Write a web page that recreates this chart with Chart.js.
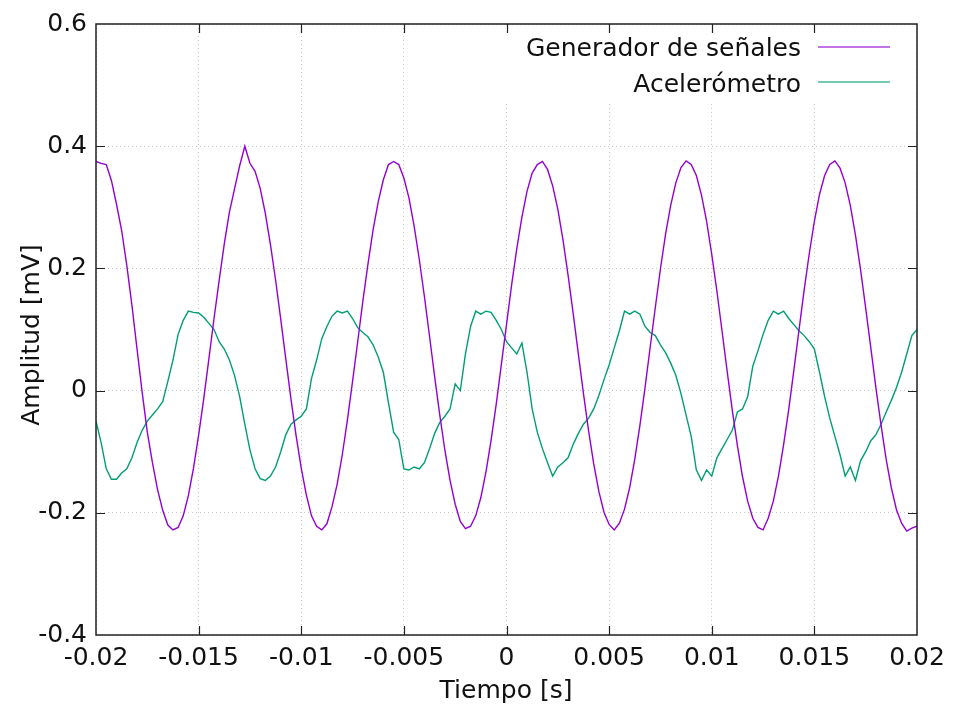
<!DOCTYPE html>
<html>
<head>
<meta charset="utf-8">
<script src="https://cdn.jsdelivr.net/npm/chart.js@4.4.1/dist/chart.umd.min.js"></script>
<style>
  html, body { margin: 0; padding: 0; background: #fff; }
  canvas { display: block; }
</style>
</head>
<body>
<canvas id="chart" width="955" height="704"></canvas>
<script>
// sampling of the captured signals
const t0 = -0.02;
const dt = 0.00025;

// Generador de señales [mV]
const generador = [
  0.375, 0.372, 0.370, 0.344, 0.305, 0.262, 0.205, 0.140, 0.068, -0.003,
  -0.068, -0.118, -0.162, -0.196, -0.220, -0.228, -0.224, -0.205, -0.172, -0.127,
  -0.073, -0.013, 0.052, 0.118, 0.180, 0.240, 0.292, 0.330, 0.368, 0.400,
  0.372, 0.359, 0.331, 0.290, 0.239, 0.181, 0.117, 0.051, -0.014, -0.074,
  -0.127, -0.171, -0.205, -0.222, -0.228, -0.218, -0.190, -0.153, -0.105, -0.048,
  0.015, 0.080, 0.146, 0.207, 0.263, 0.309, 0.345, 0.370, 0.375, 0.370,
  0.348, 0.315, 0.269, 0.215, 0.154, 0.089, 0.023, -0.040, -0.098, -0.147,
  -0.186, -0.214, -0.226, -0.222, -0.205, -0.175, -0.133, -0.081, -0.022, 0.043,
  0.108, 0.173, 0.232, 0.284, 0.326, 0.356, 0.370, 0.375, 0.362, 0.335,
  0.297, 0.247, 0.189, 0.126, 0.060, -0.005, -0.066, -0.120, -0.165, -0.199,
  -0.219, -0.228, -0.217, -0.194, -0.159, -0.112, -0.057, 0.005, 0.071, 0.136,
  0.199, 0.256, 0.303, 0.340, 0.365, 0.376, 0.370, 0.352, 0.320, 0.277,
  0.223, 0.163, 0.098, 0.032, -0.032, -0.090, -0.141, -0.181, -0.209, -0.224,
  -0.228, -0.209, -0.181, -0.140, -0.089, -0.031, 0.033, 0.099, 0.164, 0.224,
  0.277, 0.321, 0.352, 0.370, 0.376, 0.364, 0.340, 0.303, 0.255, 0.198,
  0.135, 0.070, 0.004, -0.057, -0.113, -0.159, -0.195, -0.217, -0.230, -0.225,
  -0.222
];

// Acelerómetro [mV]
const acelerometro = [
  -0.050, -0.085, -0.128, -0.145, -0.145, -0.135, -0.128, -0.110, -0.085, -0.065,
  -0.050, -0.040, -0.030, -0.018, 0.015, 0.050, 0.092, 0.115, 0.130, 0.128,
  0.127, 0.120, 0.110, 0.100, 0.080, 0.068, 0.050, 0.025, -0.010, -0.055,
  -0.097, -0.128, -0.144, -0.147, -0.140, -0.125, -0.100, -0.072, -0.055, -0.048,
  -0.042, -0.030, 0.020, 0.050, 0.085, 0.105, 0.122, 0.130, 0.127, 0.130,
  0.118, 0.103, 0.095, 0.088, 0.075, 0.055, 0.030, -0.020, -0.068, -0.080,
  -0.128, -0.130, -0.125, -0.128, -0.118, -0.095, -0.070, -0.052, -0.042, -0.030,
  0.011, 0.000, 0.060, 0.105, 0.130, 0.125, 0.130, 0.128, 0.115, 0.100,
  0.080, 0.070, 0.060, 0.078, 0.030, -0.030, -0.068, -0.095, -0.118, -0.140,
  -0.125, -0.118, -0.110, -0.088, -0.070, -0.055, -0.045, -0.030, -0.008, 0.018,
  0.042, 0.070, 0.098, 0.130, 0.125, 0.130, 0.125, 0.105, 0.095, 0.090,
  0.075, 0.062, 0.045, 0.025, -0.005, -0.040, -0.075, -0.130, -0.147, -0.130,
  -0.140, -0.110, -0.095, -0.080, -0.065, -0.035, -0.030, -0.010, 0.040, 0.065,
  0.092, 0.115, 0.130, 0.125, 0.130, 0.118, 0.108, 0.098, 0.090, 0.080,
  0.068, 0.030, -0.010, -0.045, -0.075, -0.105, -0.140, -0.125, -0.147, -0.115,
  -0.100, -0.082, -0.072, -0.055, -0.035, -0.016, 0.005, 0.030, 0.060, 0.090,
  0.100
];

const xTicks = [-0.02, -0.015, -0.01, -0.005, 0, 0.005, 0.01, 0.015, 0.02];
const yTicks = [-0.4, -0.2, 0, 0.2, 0.4, 0.6];

const purple = '#9400d3';
const green = '#009e73';
const FONT = '25px "DejaVu Sans"';

const toPoints = vals => vals.map((v, i) => ({ x: +(t0 + i * dt).toFixed(5), y: v }));

// gnuplot-like frame, inward ticks, legend and axis titles
const gnuplotLook = {
  id: 'gnuplotLook',
  beforeDatasetsDraw(chart) {
    const { ctx, chartArea: a } = chart;
    // legend box hides the grid behind it
    ctx.save();
    ctx.fillStyle = '#fff';
    ctx.fillRect(500, a.top + 1, a.right - 501, 77);
    ctx.restore();
  },
  afterDraw(chart) {
    const { ctx, chartArea: a, scales } = chart;
    ctx.save();
    ctx.strokeStyle = '#222';
    ctx.lineWidth = 1.5;
    ctx.strokeRect(a.left, a.top, a.right - a.left, a.bottom - a.top);

    ctx.lineWidth = 1.2;
    ctx.beginPath();
    xTicks.slice(1, -1).forEach(v => {
      const px = Math.round(scales.x.getPixelForValue(v)) + 0.5;
      ctx.moveTo(px, a.bottom); ctx.lineTo(px, a.bottom - 9);
      ctx.moveTo(px, a.top); ctx.lineTo(px, a.top + 9);
    });
    yTicks.slice(1, -1).forEach(v => {
      const py = Math.round(scales.y.getPixelForValue(v)) + 0.5;
      ctx.moveTo(a.left, py); ctx.lineTo(a.left + 9, py);
      ctx.moveTo(a.right, py); ctx.lineTo(a.right - 9, py);
    });
    ctx.stroke();

    // legend
    ctx.font = FONT;
    ctx.fillStyle = '#111';
    ctx.textAlign = 'right';
    ctx.textBaseline = 'middle';
    ctx.fillText('Generador de señales', 801, 49);
    ctx.fillText('Acelerómetro', 801, 85);
    ctx.lineWidth = 2;
    ctx.strokeStyle = purple;
    ctx.globalAlpha = 0.55;
    ctx.beginPath(); ctx.moveTo(818, 47); ctx.lineTo(890, 47); ctx.stroke();
    ctx.strokeStyle = green;
    ctx.beginPath(); ctx.moveTo(818, 82); ctx.lineTo(890, 82); ctx.stroke();
    ctx.globalAlpha = 1;

    // axis titles
    ctx.textAlign = 'center';
    ctx.textBaseline = 'alphabetic';
    ctx.fillText('Tiempo [s]', 506, 698);
    ctx.translate(39, 335);
    ctx.rotate(-Math.PI / 2);
    ctx.fillText('Amplitud [mV]', 0, 0);
    ctx.restore();
  }
};

new Chart(document.getElementById('chart'), {
  type: 'line',
  data: {
    datasets: [
      {
        label: 'Generador de señales',
        data: toPoints(generador),
        borderColor: purple,
        borderWidth: 1.4,
        pointRadius: 0,
        tension: 0
      },
      {
        label: 'Acelerómetro',
        data: toPoints(acelerometro),
        borderColor: green,
        borderWidth: 1.4,
        pointRadius: 0,
        tension: 0
      }
    ]
  },
  options: {
    responsive: false,
    animation: false,
    devicePixelRatio: 1,
    layout: { padding: { top: 21, right: 38, left: 0, bottom: 0 } },
    plugins: {
      legend: { display: false },
      tooltip: { enabled: false }
    },
    scales: {
      x: {
        type: 'linear',
        min: -0.02,
        max: 0.02,
        afterFit: s => { s.height = 69; },
        afterBuildTicks: s => { s.ticks = xTicks.map(v => ({ value: v })); },
        ticks: {
          color: '#111',
          font: { family: 'DejaVu Sans', size: 25 },
          padding: 8,
          maxRotation: 0,
          autoSkip: false,
          callback: v => String(Number(v.toFixed(3)))
        },
        grid: { color: '#c8c8c8', lineWidth: 1, drawTicks: false },
        border: { display: false, dash: [1, 3] }
      },
      y: {
        min: -0.4,
        max: 0.6,
        afterFit: s => { s.width = 96; },
        afterBuildTicks: s => { s.ticks = yTicks.map(v => ({ value: v })); },
        ticks: {
          color: '#111',
          font: { family: 'DejaVu Sans', size: 25 },
          padding: 9,
          callback: v => String(Number(v.toFixed(1)))
        },
        grid: { color: '#c8c8c8', lineWidth: 1, drawTicks: false },
        border: { display: false, dash: [1, 3] }
      }
    }
  },
  plugins: [gnuplotLook]
});
</script>
</body>
</html>
